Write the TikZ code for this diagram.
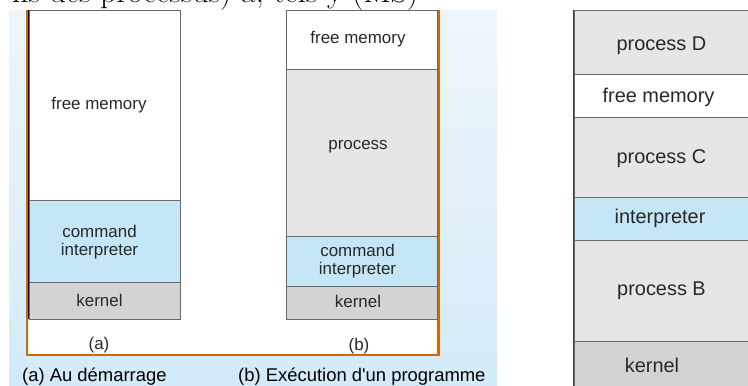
\documentclass[tikz,border=0pt]{standalone}
\usepackage{fontspec}
% plain family: keeps the straight apostrophe
\newfontfamily\labelsans{Liberation Sans}
\definecolor{cmdblue}{RGB}{197,230,246}
\definecolor{procgray}{RGB}{230,230,230}
\definecolor{kerngray}{RGB}{210,211,212}
\definecolor{edgegray}{RGB}{105,105,105}
\definecolor{frameorange}{RGB}{210,105,0}
\definecolor{bgtop}{RGB}{239,246,251}
\definecolor{bgbot}{RGB}{212,234,248}
\definecolor{inktext}{RGB}{40,40,40}
\tikzset{
  seg/.style={draw=edgegray, line width=0.8bp, inner sep=0pt},
  lbl/.style={font=\labelsans\fontsize{17}{19.5}\selectfont, text=inktext, align=center},
  biglbl/.style={font=\labelsans\fontsize{20}{23}\selectfont, text=inktext, align=center},
  captext/.style={font=\labelsans\fontsize{18.5}{21}\selectfont, text=black, anchor=west, inner sep=0pt},
}
\begin{document}
\begin{tikzpicture}[x=1bp,y=-1bp]
\useasboundingbox (0,0) rectangle (748,385);

% running text of the page above, cut by the frame
\begin{scope}
  \clip (0,0) rectangle (748,9.5);
  \node[anchor=base west, inner sep=0pt, font=\fontsize{32bp}{34bp}\selectfont] (runtext)
    at (12,2.5) {ns des processus) a, tels y (MS)};
\end{scope}

% light blue panel behind the two snapshots
\shade[top color=bgtop, bottom color=bgbot] (9,10) rectangle (497,385);

% white sheet with its orange frame (open at the top)
\fill[white] (27,10) rectangle (438.5,355);
\coordinate (ftl) at (27,10);
\coordinate (fbl) at (27,355);
\coordinate (fbr) at (438.5,355);
\coordinate (ftr) at (438.5,10);
\draw[frameorange, line width=2.6bp] (ftl) -- (fbl) -- (fbr) -- (ftr);

% (a) memory at start-up
\node[seg, fill=white, minimum width=151bp, minimum height=190bp] (afree) at (104.5,105) {};
\node[seg, fill=cmdblue, minimum width=151bp, minimum height=82bp] (acmd) at (104.5,241) {};
\node[seg, fill=kerngray, minimum width=151bp, minimum height=37bp] (aker) at (104.5,300.5) {};
\draw[black, line width=1.8bp] (afree.north west) -- (aker.south west);
\node[lbl] (afreet) at (99,105) {free memory};
\node[lbl] (acmdt) at (99.5,242) {command\\[-1bp]interpreter};
\node[lbl] (akert) at (99.5,300) {kernel};
\node[lbl] (alab) at (99,345) {(a)};

% (b) memory while a program runs
\node[seg, fill=white, minimum width=151bp, minimum height=59bp] (bfree) at (361.5,39.5) {};
\node[seg, fill=procgray, minimum width=151bp, minimum height=167bp] (bproc) at (361.5,152.5) {};
\node[seg, fill=cmdblue, minimum width=151bp, minimum height=50bp] (bcmd) at (361.5,261) {};
\node[seg, fill=kerngray, minimum width=151bp, minimum height=33bp] (bker) at (361.5,302.5) {};
\node[lbl] (bfreet) at (358,39.5) {free memory};
\node[lbl] (bproct) at (358,147) {process};
\node[lbl] (bcmdt) at (357.5,261) {command\\[-1bp]interpreter};
\node[lbl] (bkert) at (358,301) {kernel};
\node[lbl] (blab) at (359,346) {(b)};

% captions under the panel
\node[captext] (capa) at (22,377) {(a) Au démarrage};
\node[captext] (capb) at (238,377) {(b) Exécution d'un programme};

% memory with several processes
\node[seg, fill=procgray, minimum width=190bp, minimum height=64bp] (rD) at (669,42) {};
\node[seg, fill=white, minimum width=190bp, minimum height=43bp] (rfree) at (669,95.5) {};
\node[seg, fill=procgray, minimum width=190bp, minimum height=80bp] (rC) at (669,157) {};
\node[seg, fill=cmdblue, minimum width=190bp, minimum height=43bp] (rint) at (669,218.5) {};
\node[seg, fill=procgray, minimum width=190bp, minimum height=101bp] (rB) at (669,290.5) {};
\node[seg, fill=kerngray, minimum width=190bp, minimum height=50bp] (rker) at (669,366) {};
\draw[edgegray!60!black, line width=1.6bp] (rD.north west) -- (rker.south west);
\node[biglbl] (rDt) at (661.5,46) {process D};
\node[biglbl] (rfreet) at (658.5,97) {free memory};
\node[biglbl] (rCt) at (661.5,159) {process C};
\node[biglbl] (rintt) at (660,218) {interpreter};
\node[biglbl] (rBt) at (661.5,291) {process B};
\node[biglbl] (rkert) at (652,365) {kernel};
\end{tikzpicture}
\end{document}
